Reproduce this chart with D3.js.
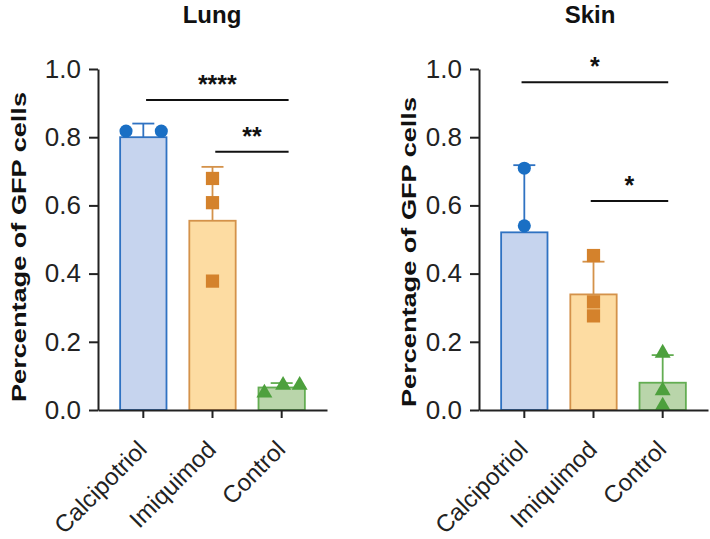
<!DOCTYPE html>
<html>
<head>
<meta charset="utf-8">
<script src="https://cdn.jsdelivr.net/npm/d3@7"></script>
<style>
  html, body { margin: 0; padding: 0; background: #fff; }
  svg { display: block; }
  text { font-family: "Liberation Sans", Arial, Helvetica, sans-serif; }
</style>
</head>
<body>
<svg id="chart" width="710" height="539"></svg>
<script>
// ---------- data ----------
const categories = ["Calcipotriol", "Imiquimod", "Control"];
const yTicks = [0.0, 0.2, 0.4, 0.6, 0.8, 1.0];

const lungMeans  = [0.800, 0.555, 0.066];
const lungSD     = [0.040, 0.158, 0.013];
const lungPoints = [[0.818, 0.818], [0.679, 0.608, 0.378], [0.050, 0.073, 0.073]];
const lungSig    = [["****", 0, 2, 0.909], ["**", 1, 2, 0.757]];

const skinMeans  = [0.521, 0.339, 0.080];
const skinSD     = [0.197, 0.096, 0.081];
const skinPoints = [[0.709, 0.540], [0.453, 0.317, 0.276], [0.167, 0.057, 0.012]];
const skinSig    = [["*", 0, 2, 0.961], ["*", 1, 2, 0.613]];

// ---------- styles ----------
const fills   = ["#c6d4ee", "#fddca2", "#b9d5aa"];
const strokes = ["#2f72c2", "#d4924a", "#63ad52"];
const dots    = ["#1a6fc4", "#d4822c", "#4da03d"];
const shapes  = [d3.symbolCircle, d3.symbolSquare, d3.symbolTriangle];
const shapeSize = [135, 175, 110];

const svg = d3.select("#chart");

function panel(cfg) {
  const y = d3.scaleLinear().domain([0, 1]).range([410, 69]);
  const x = d3.scaleBand().domain(categories)
    .range([cfg.x0, cfg.x1]).paddingInner(0.33).paddingOuter(0.32);
  const bw = x.bandwidth();
  const step = x.step();
  const cx = c => x(c) + bw / 2;
  const g = svg.append("g");

  // title
  g.append("text").attr("x", cfg.titleX).attr("y", 23)
    .attr("text-anchor", "middle").attr("font-size", 24).attr("font-weight", "bold")
    .attr("fill", "#111").text(cfg.title);

  // y label
  g.append("text")
    .attr("transform", `translate(${cfg.labelX},${cfg.labelY}) rotate(-90)`)
    .attr("text-anchor", "middle").attr("font-size", 20).attr("font-weight", "bold")
    .attr("fill", "#111")
    .attr("textLength", 310).attr("lengthAdjust", "spacingAndGlyphs")
    .text("Percentage of GFP cells");

  // bars
  g.selectAll("rect.bar").data(categories).join("rect")
    .attr("x", d => x(d)).attr("width", bw)
    .attr("y", (d, i) => y(cfg.means[i]))
    .attr("height", (d, i) => y(0) - y(cfg.means[i]))
    .attr("fill", (d, i) => fills[i]).attr("stroke", (d, i) => strokes[i])
    .attr("stroke-width", 1.8);

  // error bars
  categories.forEach((c, i) => {
    const top = cfg.means[i] + cfg.sd[i];
    g.append("line").attr("x1", cx(c)).attr("x2", cx(c))
      .attr("y1", y(cfg.means[i])).attr("y2", y(top))
      .attr("stroke", strokes[i]).attr("stroke-width", 1.8);
    g.append("line").attr("x1", cx(c) - 11).attr("x2", cx(c) + 11)
      .attr("y1", y(top)).attr("y2", y(top))
      .attr("stroke", strokes[i]).attr("stroke-width", 1.8);
  });

  // points
  categories.forEach((c, i) => {
    const pts = cfg.points[i];
    const offs = cfg.spread[i];
    g.selectAll(null).data(pts).join("path")
      .attr("d", d3.symbol().type(shapes[i]).size(shapeSize[i]))
      .attr("transform", (d, j) => `translate(${cx(c) + offs[j] * step},${y(d)})`)
      .attr("fill", dots[i]);
  });

  // y axis
  const ya = g.append("g").attr("transform", `translate(${cfg.x0},0)`)
    .call(d3.axisLeft(y).tickValues(yTicks).tickFormat(d3.format(".1f"))
      .tickSize(9).tickSizeOuter(0).tickPadding(8));
  ya.selectAll("path, line").attr("stroke", "#222").attr("stroke-width", 2);
  ya.selectAll("text").attr("font-size", 26).attr("fill", "#222")
    .attr("font-family", "Liberation Sans, Arial, sans-serif");

  // x axis
  const xa = g.append("g").attr("transform", `translate(0,${y(0)})`)
    .call(d3.axisBottom(x).tickSize(8).tickSizeOuter(0).tickPadding(0));
  xa.selectAll("path, line").attr("stroke", "#222").attr("stroke-width", 2);
  xa.selectAll("text")
    .attr("font-size", 24).attr("fill", "#222")
    .attr("font-family", "Liberation Sans, Arial, sans-serif")
    .attr("text-anchor", "end").attr("x", 0).attr("y", 0).attr("dy", 0)
    .attr("transform", "translate(5,41) rotate(-45)");

  // significance
  cfg.sig.forEach(([label, a, b, v]) => {
    const xa1 = cx(categories[a]) + cfg.sigPad[0] * step;
    const xb1 = cx(categories[b]) + cfg.sigPad[1] * step;
    g.append("line").attr("x1", xa1).attr("x2", xb1)
      .attr("y1", y(v)).attr("y2", y(v))
      .attr("stroke", "#111").attr("stroke-width", 2);
    g.append("text").attr("x", (xa1 + xb1) / 2).attr("y", y(v) - 7)
      .attr("text-anchor", "middle").attr("font-size", 25).attr("font-weight", "bold")
      .attr("fill", "#111").text(label);
  });
}

panel({
  title: "Lung", titleX: 212, x0: 98, x1: 327, labelX: 26, labelY: 247,
  means: lungMeans, sd: lungSD, points: lungPoints, sig: lungSig,
  spread: [[-0.25, 0.26], [0, 0, 0], [-0.25, 0.02, 0.26]], sigPad: [0.04, 0.1]
});
panel({
  title: "Skin", titleX: 590, x0: 479, x1: 708, labelX: 416, labelY: 252,
  means: skinMeans, sd: skinSD, points: skinPoints, sig: skinSig,
  spread: [[0, 0], [0, 0, 0], [0, 0, 0]], sigPad: [-0.04, 0.08]
});
</script>
</body>
</html>
